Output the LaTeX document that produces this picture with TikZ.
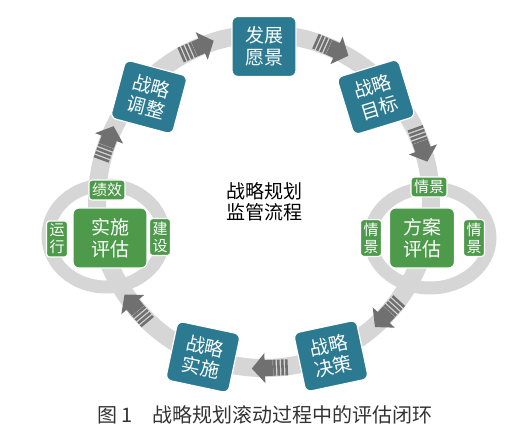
\documentclass[tikz,border=0pt]{standalone}
\usepackage{fontspec}
\setmainfont{Noto Sans CJK SC}
\usetikzlibrary{positioning}

\definecolor{ringgray}{RGB}{214,214,214}
\definecolor{arrowgray}{RGB}{112,112,112}
\definecolor{stageblue}{RGB}{44,122,145}
\definecolor{evalgreen}{RGB}{76,154,74}

\begin{document}
\begin{tikzpicture}[
  x=1pt,y=1pt,
  stage/.style={draw=white, line width=1.2pt, rounded corners=6pt,
    fill=stageblue, text=white, minimum width=64, minimum height=60,
    align=center, inner sep=2pt, font=\fontsize{19}{22}\selectfont},
  evalbox/.style={stage, fill=evalgreen, minimum width=70, minimum height=60},
  tagbox/.style={stage, fill=evalgreen, rounded corners=3pt,
    minimum width=0, minimum height=0, inner sep=3pt,
    font=\fontsize{15}{17}\selectfont},
  ring/.style={draw=ringgray, line width=18pt},
  flowarrow/.pic={
    \fill[arrowgray] (5,-15) -- (18,0) -- (5,15) -- cycle;
    \fill[arrowgray] (-3,-8) rectangle (5.5,8);
    \foreach \s in {-18,-14,-10,-6}
      \fill[arrowgray] (\s,-8) rectangle ++(2.6,16);
  }
]
\useasboundingbox (0,0) rectangle (529,434);

% rings
\coordinate (hub) at (264,233);
\draw[ring] (hub) circle[radius=167];
\draw[ring, line width=13pt] (106,198) ellipse[x radius=58, y radius=51];
\draw[ring, line width=13pt] (430,196) ellipse[x radius=60, y radius=50];

% arrows along the big ring
\begin{scope}[shift={(hub)}]
\foreach \a in {113.6,66,19.7,-42.5,-88,-140,159.7}
  \pic[rotate=\a-90] at (\a:167) {flowarrow};
\end{scope}

% strategy stages
\node[stage] (vision) at (264,387.5) {发展\\愿景};
\node[stage, rotate=17] (goal) at (376,337) {战略\\目标};
\node[stage, rotate=12] (decision) at (331,78) {战略\\决策};
\node[stage, rotate=-12] (implement) at (203,77) {战略\\实施};
\node[stage, rotate=-15] (adjust) at (149,337) {战略\\调整};

% implementation evaluation
\node[evalbox, minimum width=74] (impleval) at (110,196) {实施\\评估};
\node[tagbox] (perf) at (107,244) {绩效};
\node[tagbox] (run) at (57,195) {运\\行};
\node[tagbox] (build) at (160,197) {建\\设};

% scheme evaluation
\node[evalbox, minimum width=65] (schemeeval) at (422,196) {方案\\评估};
\node[tagbox] (scenetop) at (429,247) {情景};
\node[tagbox] (sceneleft) at (371,196) {情\\景};
\node[tagbox] (sceneright) at (474,196) {情\\景};

\node[align=center, font=\fontsize{19}{21}\selectfont] (title) at (264,232)
  {战略规划\\监管流程};

\node[text=black!80, font=\fontsize{20}{24}\selectfont] (caption) at (265,19)
  {图\,1\quad 战略规划滚动过程中的评估闭环};
\end{tikzpicture}
\end{document}
